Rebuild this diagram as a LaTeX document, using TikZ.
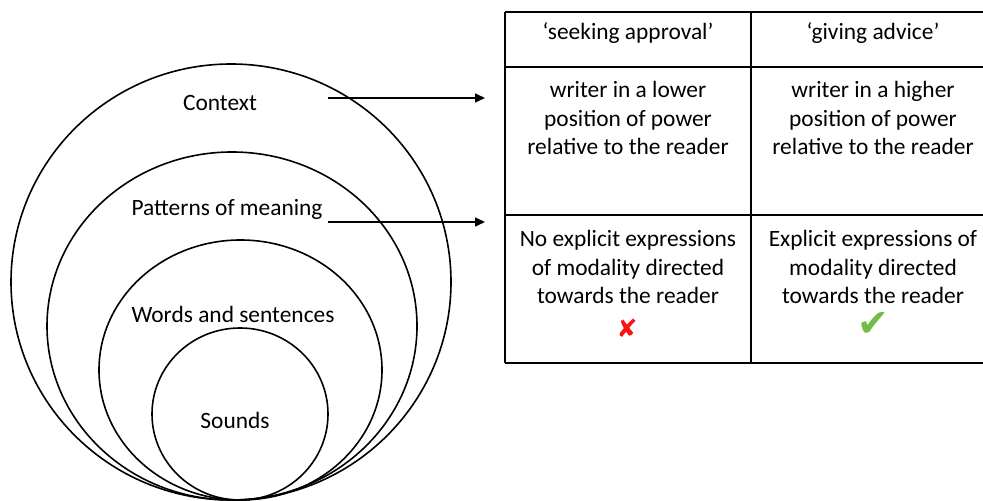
\documentclass[tikz,border=0pt]{standalone}
\usepackage{fontspec}
\setmainfont{Carlito}
\newfontfamily\symfont{DejaVu Sans}
\usetikzlibrary{arrows.meta}
\definecolor{crossred}{RGB}{250,20,20}
\definecolor{tickgreen}{RGB}{112,190,70}
\tikzset{
  lbl/.style={font=\fontsize{11.7}{14.25}\selectfont, align=center, inner sep=0pt},
  ring/.style={draw=black, line width=0.8pt},
  rule/.style={draw=black, line width=0.7pt},
  pointer/.style={draw=black, line width=0.8pt, -{Triangle[length=5pt,width=4.5pt]}}
}
\begin{document}
\begin{tikzpicture}[x=0.5pt,y=-0.5pt]
\useasboundingbox (0,0) rectangle (983,501);
% nested circles
\draw [ring] (231,282) ellipse [x radius=220, y radius=218];
\draw [ring] (232,326) ellipse [x radius=185, y radius=174];
\draw [ring] (240.5,370) ellipse [x radius=141.5, y radius=130];
\draw [ring] (240,414) ellipse [x radius=88, y radius=86];
\node[lbl] (ctx) at (220,103) {Context};
\node[lbl] (pat) at (227,209) {Patterns of meaning};
\node[lbl] (words) at (233,314) {Words and sentences};
\node[lbl] (snd) at (235,420) {Sounds};
% table
\draw [rule] (505,12)--(995,12);
\draw [rule, line width=1pt] (505,67)--(995,67);
\draw [rule] (505,215)--(995,215);
\draw [rule] (505,363)--(995,363);
\draw [rule] (505,12)--(505,363);
\draw [rule] (751,12)--(751,363);
\node[lbl] (headL) at (628,33) {‘seeking approval’};
\node[lbl] (headR) at (873,33) {‘giving advice’};
\node[lbl] (powL) at (628,118) {writer in a lower\\position of power\\relative to the reader};
\node[lbl] (powR) at (873,118) {writer in a higher\\position of power\\relative to the reader};
\node[lbl] (modL) at (628,267) {No explicit expressions\\of modality directed\\towards the reader};
\node[lbl] (modR) at (873,267) {Explicit expressions of\\modality directed\\towards the reader};
\node[inner sep=0pt, text=crossred, font=\symfont\fontsize{12.5}{12.5}\selectfont] (cross) at (627,328) {✘};
\node[inner sep=0pt, text=tickgreen, font=\symfont\fontsize{19}{19}\selectfont] (tick) at (873,325) {✔};
% arrows into the table
\coordinate (ctxA) at (328,98);
\coordinate (ctxB) at (485,98);
\coordinate (patA) at (328,222);
\coordinate (patB) at (485,222);
\draw [pointer] (ctxA)--(ctxB);
\draw [pointer] (patA)--(patB);
\end{tikzpicture}
\end{document}
